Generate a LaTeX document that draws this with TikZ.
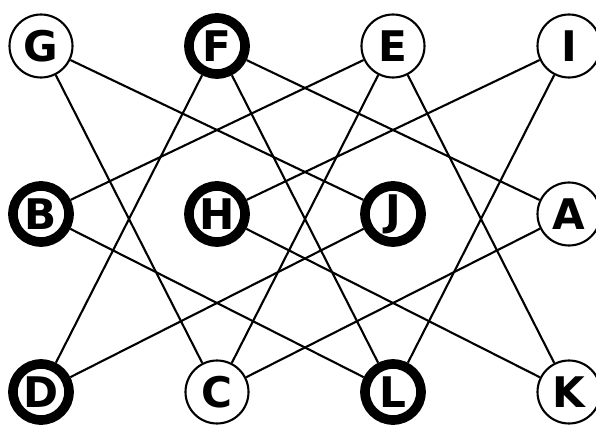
\documentclass[tikz,border=0pt]{standalone}
\usepackage{fontspec}
\setsansfont{DejaVu Sans}
\usepackage{tikz}
\usetikzlibrary{positioning}

\begin{document}
\begin{tikzpicture}[
  node distance=3.46cm and 3.52cm, on grid,
  vertex/.style={circle, draw, inner sep=0pt, font=\sffamily\bfseries\fontsize{24}{24}\selectfont},
  light/.style={vertex, minimum size=1.26cm, line width=1.2pt},
  heavy/.style={vertex, minimum size=1.12cm, line width=5.5pt},
  link/.style={line width=1.2pt},
]

  \useasboundingbox (-0.82,0.92) rectangle (11.10,-7.60);

  % Top row
  \node[light] (G) {G};
  \node[heavy, right=of G] (F) {F};
  \node[light, right=of F] (E) {E};
  \node[light, right=of E] (I) {I};

  % Middle row
  \node[heavy, below=3.36cm of G] (B) {B};
  \node[heavy, right=of B] (H) {H};
  \node[heavy, right=of H] (J) {J};
  \node[light, right=of J] (A) {A};

  % Bottom row
  \node[heavy, below=3.56cm of B] (D) {D};
  \node[light, right=of D] (C) {C};
  \node[heavy, right=of C] (L) {L};
  \node[light, right=of L] (K) {K};

  % Edges
  \draw[link] (G) -- (J);
  \draw[link] (G) -- (C);
  \draw[link] (F) -- (D);
  \draw[link] (F) -- (L);
  \draw[link] (F) -- (A);
  \draw[link] (E) -- (B);
  \draw[link] (E) -- (C);
  \draw[link] (E) -- (K);
  \draw[link] (I) -- (H);
  \draw[link] (I) -- (L);
  \draw[link] (B) -- (L);
  \draw[link] (H) -- (K);
  \draw[link] (J) -- (D);
  \draw[link] (A) -- (C);

\end{tikzpicture}
\end{document}
